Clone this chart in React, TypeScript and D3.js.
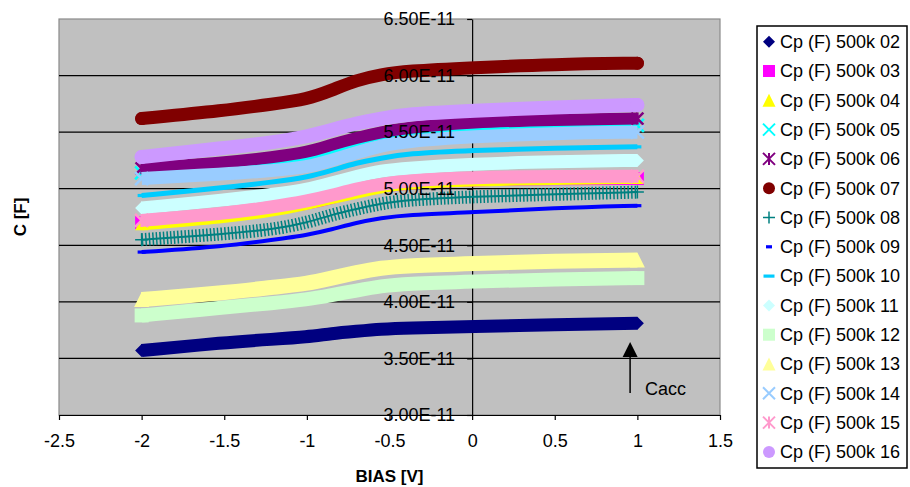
import { useEffect, useRef } from "react"
import * as d3 from "d3"

// bias sweep points (V)
const biasV = [-2, -1.5, -1.2, -1, -0.85, -0.7, -0.55, -0.4, 0, 0.5, 1]

// Cp values, in units of 1e-11 F
const cp02 = [3.57, 3.64, 3.67, 3.69, 3.72, 3.74, 3.76, 3.77, 3.78, 3.8, 3.81]
const cp03 = [4.7, 4.76, 4.82, 4.87, 4.92, 4.98, 5.02, 5.05, 5.08, 5.09, 5.09]
const cp04 = [4.69, 4.75, 4.81, 4.87, 4.92, 4.97, 5.02, 5.05, 5.08, 5.09, 5.1]
const cp05 = [5.14, 5.18, 5.22, 5.26, 5.32, 5.39, 5.44, 5.48, 5.53, 5.55, 5.56]
const cp06 = [5.18, 5.23, 5.28, 5.32, 5.39, 5.45, 5.5, 5.54, 5.59, 5.61, 5.62]
const cp07 = [5.62, 5.69, 5.75, 5.79, 5.87, 5.96, 6.01, 6.04, 6.07, 6.1, 6.11]
const cp08 = [4.55, 4.6, 4.64, 4.7, 4.77, 4.82, 4.87, 4.9, 4.93, 4.95, 4.97]
const cp09 = [4.44, 4.49, 4.55, 4.59, 4.64, 4.7, 4.74, 4.77, 4.79, 4.83, 4.85]
const cp10 = [4.94, 5.01, 5.06, 5.1, 5.16, 5.23, 5.27, 5.31, 5.34, 5.36, 5.37]
const cp11 = [4.83, 4.9, 4.95, 4.99, 5.05, 5.11, 5.16, 5.18, 5.22, 5.24, 5.25]
const cp12 = [3.88, 3.95, 3.99, 4.02, 4.06, 4.1, 4.14, 4.16, 4.18, 4.2, 4.21]
const cp13 = [4.02, 4.08, 4.13, 4.16, 4.21, 4.26, 4.3, 4.32, 4.34, 4.36, 4.37]
const cp14 = [5.09, 5.13, 5.16, 5.19, 5.25, 5.32, 5.38, 5.42, 5.46, 5.49, 5.5]
const cp15 = [4.72, 4.78, 4.84, 4.89, 4.94, 5.0, 5.04, 5.07, 5.1, 5.11, 5.11]
const cp16 = [5.28, 5.36, 5.41, 5.46, 5.52, 5.58, 5.62, 5.66, 5.69, 5.72, 5.74]

const seriesValues = [cp02, cp03, cp04, cp05, cp06, cp07, cp08, cp09, cp10, cp11, cp12, cp13, cp14, cp15, cp16]
const seriesNames = [
  "Cp (F) 500k 02", "Cp (F) 500k 03", "Cp (F) 500k 04", "Cp (F) 500k 05", "Cp (F) 500k 06",
  "Cp (F) 500k 07", "Cp (F) 500k 08", "Cp (F) 500k 09", "Cp (F) 500k 10", "Cp (F) 500k 11",
  "Cp (F) 500k 12", "Cp (F) 500k 13", "Cp (F) 500k 14", "Cp (F) 500k 15", "Cp (F) 500k 16",
]

const xTickValues = [-2.5, -2, -1.5, -1, -0.5, 0, 0.5, 1, 1.5]
const yTickValues = [3.0, 3.5, 4.0, 4.5, 5.0, 5.5, 6.0, 6.5]
const yTickLabels = ["3.00E-11", "3.50E-11", "4.00E-11", "4.50E-11", "5.00E-11", "5.50E-11", "6.00E-11", "6.50E-11"]

// styles
const colors = ["#000080", "#ff00ff", "#ffff00", "#00ffff", "#800080", "#800000", "#008080", "#0000ff",
  "#00ccff", "#ccffff", "#ccffcc", "#ffff99", "#99ccff", "#ff99cc", "#cc99ff"]
const markers = ["diamond", "square", "triangle", "x", "star", "circle", "plus", "dash",
  "longdash", "diamond", "square", "triangle", "x", "star", "circle"]
const bandWidths = [13, 13, 13, 13, 12, 13, 13, 4, 5, 13, 14, 15, 13, 13, 14]

const FONT = "'Liberation Sans', Arial, sans-serif"

function markerPath(type, s) {
  switch (type) {
    case "diamond":
      return `M0,${-s}L${s},0L0,${s}L${-s},0Z`
    case "square":
      return `M${-s},${-s}H${s}V${s}H${-s}Z`
    case "triangle":
      return `M0,${-s}L${s},${s}L${-s},${s}Z`
    case "circle":
      return `M${-s},0A${s},${s} 0 1,0 ${s},0A${s},${s} 0 1,0 ${-s},0Z`
    case "x":
      return `M${-s},${-s}L${s},${s}M${s},${-s}L${-s},${s}`
    case "star":
      return `M${-s},${-s}L${s},${s}M${s},${-s}L${-s},${s}M0,${-s}V${s}`
    case "plus":
      return `M${-s},0H${s}M0,${-s}V${s}`
    case "dash":
      return `M${-s * 0.5},-1.6H${s * 0.5}V1.6H${-s * 0.5}Z`
    case "longdash":
      return `M${-s},-1.6H${s}V1.6H${-s}Z`
  }
  return ""
}
const isStroke = (t) => t === "x" || t === "star" || t === "plus"

const App = () => {
  const svgRef = useRef(null)

  useEffect(() => {
    document.body.style.margin = "0"
    const left = 59, right = 720, top = 19, bottom = 415
    const x = d3.scaleLinear().domain([-2.5, 1.5]).range([left, right])
    const y = d3.scaleLinear().domain([3e-11, 6.5e-11]).range([bottom, top])

    const svg = d3.select(svgRef.current)
    svg.selectAll("*").remove()

    // plot area
    svg.append("rect").attr("x", left).attr("y", top).attr("width", right - left).attr("height", bottom - top)
      .attr("fill", "#c0c0c0").attr("stroke", "#8a8a8a").attr("stroke-width", 1.2)

    // gridlines
    svg.append("g").selectAll("line").data(yTickValues.filter((v) => v > 3 && v < 6.5)).enter().append("line")
      .attr("x1", left).attr("x2", right)
      .attr("y1", (d) => y(d * 1e-11)).attr("y2", (d) => y(d * 1e-11))
      .attr("stroke", "#000").attr("stroke-width", 1.2)

    // y axis line at x = 0 (labels drawn later, on top of data)
    const yAxis = d3.axisLeft(y).tickValues(yTickValues.map((v) => v * 1e-11)).tickSize(5).tickSizeOuter(0).tickFormat(() => "")
    const ya = svg.append("g").attr("transform", `translate(${x(0)},0)`).call(yAxis)
    ya.selectAll("path,line").attr("stroke", "#000").attr("stroke-width", 1.2)

    // x axis
    const xAxis = d3.axisBottom(x).tickValues(xTickValues).tickSize(5).tickSizeOuter(0).tickPadding(14).tickFormat((d) => String(d))
    const xa = svg.append("g").attr("transform", `translate(0,${bottom})`).call(xAxis)
    xa.selectAll("path,line").attr("stroke", "#000").attr("stroke-width", 1.2)
    xa.selectAll("text").attr("font-family", FONT).attr("font-size", 18).attr("fill", "#000")

    // series: dense marker runs drawn as thick bands, with the end markers on top
    const line = d3.line().curve(d3.curveBasis)
    const sg = svg.append("g")
    seriesValues.forEach((vals, i) => {
      const pts = biasV.map((b, j) => [x(b), y(vals[j] * 1e-11)])
      const m = markers[i]
      const w = bandWidths[i]
      if (m === "plus") {
        sg.append("path").attr("d", line(pts)).attr("fill", "none").attr("stroke", colors[i]).attr("stroke-width", 2)
        sg.append("path").attr("d", line(pts)).attr("fill", "none").attr("stroke", colors[i])
          .attr("stroke-width", w).attr("stroke-dasharray", "1.5 2.1")
      } else {
        sg.append("path").attr("d", line(pts)).attr("fill", "none").attr("stroke", colors[i])
          .attr("stroke-width", w).attr("stroke-linecap", m === "circle" ? "round" : "butt")
      }
      const s = m === "dash" || m === "longdash" ? 4 : w / 2
      const ends = [pts[0], pts[pts.length - 1]]
      sg.append("g").selectAll("path").data(ends).enter().append("path")
        .attr("transform", (p) => `translate(${p[0]},${p[1]})`)
        .attr("d", markerPath(m === "dash" || m === "longdash" ? "longdash" : m, s))
        .attr("fill", isStroke(m) ? "none" : colors[i])
        .attr("stroke", isStroke(m) ? colors[i] : "none")
        .attr("stroke-width", m === "plus" ? 1.5 : 2.5)
    })

    // y tick labels, over the data
    svg.append("g").selectAll("text").data(yTickValues).enter().append("text")
      .attr("x", x(0) - 17).attr("y", (d) => y(d * 1e-11)).attr("dy", "0.35em")
      .attr("text-anchor", "end").attr("font-family", FONT).attr("font-size", 18).attr("fill", "#000")
      .text((d, i) => yTickLabels[i])

    // Cacc annotation
    const ax = x(0.956)
    svg.append("line").attr("x1", ax).attr("x2", ax).attr("y1", 393).attr("y2", 354).attr("stroke", "#000").attr("stroke-width", 1.5)
    svg.append("path").attr("d", `M${ax},342L${ax + 7.5},357L${ax - 7.5},357Z`).attr("fill", "#000")
    svg.append("text").attr("x", ax + 15).attr("y", 395).attr("font-family", FONT).attr("font-size", 18).attr("fill", "#000").text("Cacc")

    // axis titles
    svg.append("text").attr("transform", `translate(20,${(top + bottom) / 2}) rotate(-90)`)
      .attr("text-anchor", "middle").attr("dy", "0.35em").attr("font-family", FONT)
      .attr("font-size", 17).attr("font-weight", "bold").text("C [F]")
    svg.append("text").attr("x", (left + right) / 2).attr("y", 476).attr("dy", "0.35em")
      .attr("text-anchor", "middle").attr("font-family", FONT)
      .attr("font-size", 17).attr("font-weight", "bold").text("BIAS [V]")

    // legend
    const lg = svg.append("g")
    lg.append("rect").attr("x", 757).attr("y", 26).attr("width", 150).attr("height", 442)
      .attr("fill", "#fff").attr("stroke", "#000").attr("stroke-width", 1.5)
    seriesNames.forEach((name, i) => {
      const cy = 41.7 + i * 29.3
      const m = markers[i]
      const s = m === "dash" ? 6 : m === "longdash" ? 5.5 : m === "triangle" ? 6.5 : 6
      lg.append("path").attr("transform", `translate(769,${cy})`).attr("d", markerPath(m, s))
        .attr("fill", isStroke(m) ? "none" : colors[i])
        .attr("stroke", isStroke(m) ? colors[i] : "none")
        .attr("stroke-width", m === "plus" ? 1.5 : 2)
      lg.append("text").attr("x", 780).attr("y", cy).attr("dy", "0.35em")
        .attr("font-family", FONT).attr("font-size", 18).attr("fill", "#000").text(name)
    })
  }, [])

  return <svg ref={svgRef} width={910} height={487} style={{ display: "block" }}></svg>
}

export default App
